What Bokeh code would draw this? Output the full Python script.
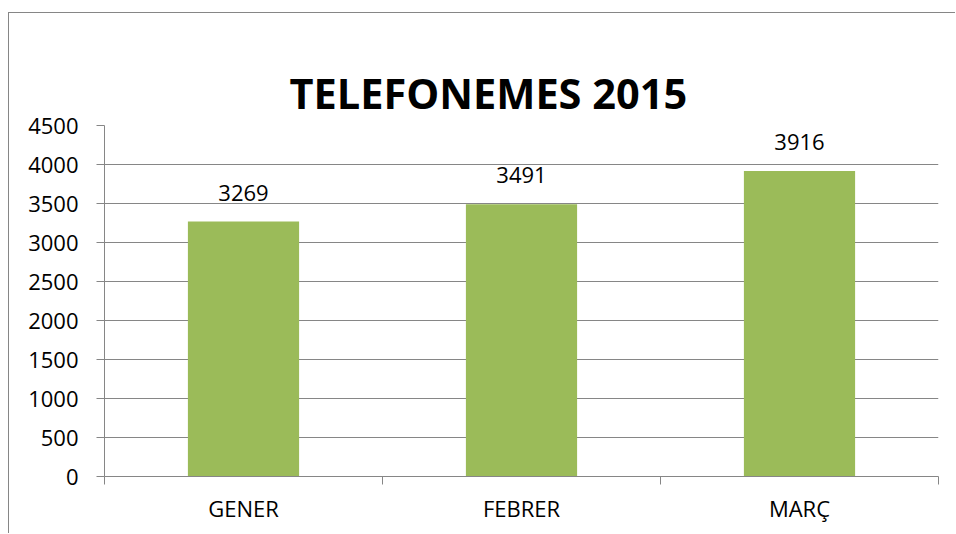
from bokeh.plotting import figure
from bokeh.models import ColumnDataSource, FixedTicker, LabelSet, Range1d, Title
from bokeh.core.properties import value
from bokeh.embed import file_html
from bokeh.resources import INLINE

categories = ["GENER", "FEBRER", "MARÇ"]
values = [3269, 3491, 3916]
y_ticks = [0, 500, 1000, 1500, 2000, 2500, 3000, 3500, 4000, 4500]
title_text = "TELEFONEMES 2015"

GRID = "#868686"
BAR = "#9BBB59"
FONT = "Open Sans"

xs = [i + 0.5 for i in range(len(categories))]
src = ColumnDataSource(dict(x=xs, top=values, label=[str(v) for v in values]))

p = figure(width=947, height=521, output_backend="svg", toolbar_location=None,
           x_range=Range1d(0, len(categories)), y_range=Range1d(0, 4500),
           min_border_left=95, min_border_right=18, min_border_top=112,
           min_border_bottom=58,
           styles={"border-left": "1px solid #868686", "border-top": "1px solid #868686",
                   "margin-top": "12px", "margin-left": "8px"})
p.outline_line_color = None
p.background_fill_color = "white"
p.border_fill_color = "white"

# invisible spacer (built-in title slot sits next to the frame)
p.title.text = "x"
p.title.text_font_size = "10px"
p.title.text_alpha = 0
p.title.standoff = 15

# real chart title, stacked outside the spacer
p.add_layout(Title(text=title_text, align="left", offset=185, text_font=FONT,
                   text_font_style="bold", text_font_size="41.5px",
                   text_color="black", standoff=10), "above")

p.vbar(x="x", top="top", width=0.4, source=src, color=BAR, line_color=None)

p.add_layout(LabelSet(x="x", y="top", text="label", source=src, y_offset=21,
                      text_align="center", text_baseline="alphabetic",
                      text_font=value(FONT), text_font_size=value("22px"),
                      text_color="black"))

# y axis
p.yaxis.ticker = FixedTicker(ticks=y_ticks)
p.yaxis.axis_line_color = GRID
p.yaxis.major_tick_line_color = GRID
p.yaxis.major_tick_in = 0
p.yaxis.major_tick_out = 8
p.yaxis.minor_tick_line_color = None
p.yaxis.major_label_standoff = 18
p.yaxis.major_label_text_font = FONT
p.yaxis.major_label_text_font_size = "22px"
p.yaxis.major_label_text_color = "black"

# x axis: labels at category centres, ticks at boundaries
p.xaxis.ticker = FixedTicker(ticks=xs, minor_ticks=list(range(len(categories) + 1)))
p.xaxis.major_label_overrides = {x: c for x, c in zip(xs, categories)}
p.xaxis.axis_line_color = GRID
p.xaxis.major_tick_line_color = None
p.xaxis.minor_tick_line_color = GRID
p.xaxis.minor_tick_in = 0
p.xaxis.minor_tick_out = 8
p.xaxis.major_label_standoff = 8
p.xaxis.major_label_text_font = FONT
p.xaxis.major_label_text_font_size = "22px"
p.xaxis.major_label_text_color = "black"

p.xgrid.grid_line_color = None
p.ygrid.grid_line_color = GRID
p.ygrid.ticker = FixedTicker(ticks=y_ticks)

open("out.html", "w").write(file_html(p, INLINE))
